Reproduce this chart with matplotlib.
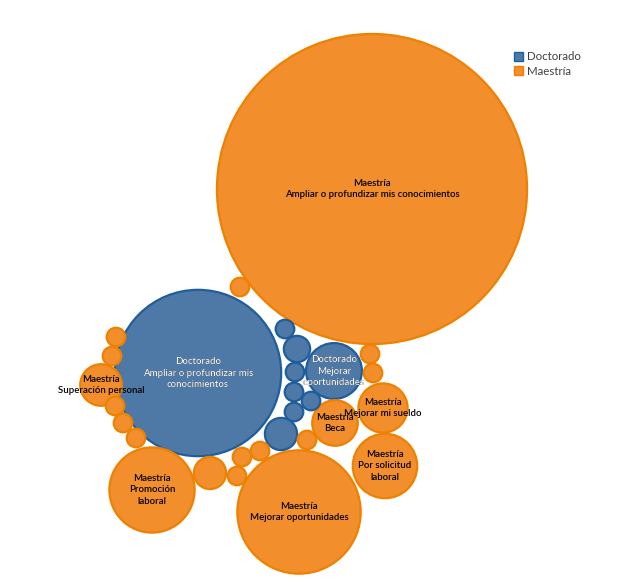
import matplotlib
matplotlib.use("Agg")
import matplotlib.pyplot as plt
from matplotlib.patches import Circle, Patch
import numpy as np

plt.rcParams["font.family"] = ["Lato", "DejaVu Sans"]

# ── data: one bubble per (programa, motivo); value = respondents ──────────
programa = ["Maestría", "Doctorado", "Doctorado", "Maestría", "Maestría",
            "Maestría", "Maestría", "Maestría", "Maestría",
            "Doctorado", "Doctorado", "Doctorado", "Doctorado",
            "Doctorado", "Doctorado", "Doctorado",
            "Maestría", "Maestría", "Maestría", "Maestría", "Maestría",
            "Maestría", "Maestría", "Maestría", "Maestría", "Maestría",
            "Maestría", "Maestría", "Maestría"]
motivo = ["Ampliar o profundizar mis conocimientos",
          "Ampliar o profundizar mis\nconocimientos",
          "Mejorar\noportunidades",
          "Superación personal",
          "Mejorar mi sueldo",
          "Beca",
          "Por solicitud\nlaboral",
          "Promoción\nlaboral",
          "Mejorar oportunidades",
          "", "", "", "", "", "", "",
          "", "", "", "", "", "", "", "", "", "", "", "", ""]
valor = [278, 80, 9, 5, 7, 6, 12, 21, 44,
         1, 2, 1, 1, 1, 1, 3,
         1, 1, 1, 1, 1, 1, 1, 1, 1, 3, 1, 1, 1]

# ── layout: packed bubble centres (pixel space of the 629x582 canvas) ─────
centros = [(372, 189), (198, 373), (334, 371), (101, 385), (383, 408),
           (335, 423), (385, 466), (152, 490), (299, 512),
           (285, 329), (297, 349), (295, 372), (294, 392), (311, 401),
           (294, 412), (281, 434),
           (240, 287), (116, 337), (112, 356), (115, 406), (123, 423),
           (136, 438), (370, 354), (373, 373), (307, 440), (210, 473),
           (242, 457), (260, 451), (237, 476)]
ESCALA = 9.3  # px radius for a bubble of value 1

COLORES = {"Doctorado": ("#4E78A6", "#1F5E9E", "white"),
           "Maestría": ("#F28E2B", "#EE8200", "black")}

fig = plt.figure(figsize=(6.29, 5.82), dpi=100)
ax = fig.add_axes([0, 0, 1, 1])
ax.set_xlim(0, 629)
ax.set_ylim(582, 0)
ax.set_aspect("equal")
ax.axis("off")

for prog, mot, v, (cx, cy) in zip(programa, motivo, valor, centros):
    fc, ec, tc = COLORES[prog]
    r = ESCALA * np.sqrt(v)
    circ = Circle((cx, cy), r, facecolor=fc, edgecolor=ec, lw=1.6, zorder=2)
    ax.add_patch(circ)
    if not mot:
        continue
    txt = dict(ha="center", va="center", fontsize=6.9, fontweight="semibold",
               linespacing=1.35)
    if tc == "black":
        ax.text(cx, cy, f"{prog}\n{mot}", color=tc, zorder=3, **txt)
    else:
        # label overflowing the bubble is drawn dark, the inside part white
        ax.text(cx, cy, f"{prog}\n{mot}", color="black", zorder=3, **txt)
        inner = ax.text(cx, cy, f"{prog}\n{mot}", color=tc, zorder=4, **txt)
        inner.set_clip_path(Circle((cx, cy), r - 1, transform=ax.transData))

handles = [Patch(facecolor=COLORES[p][0], edgecolor=COLORES[p][1], label=p)
           for p in ["Doctorado", "Maestría"]]
ax.legend(handles=handles, loc="upper left", bbox_to_anchor=(0.8, 0.93),
          frameon=False, fontsize=8.3, handlelength=0.8, handleheight=0.8,
          handletextpad=0.4, labelspacing=0.3, labelcolor="#404040")

fig.savefig("out.png", dpi=100)
